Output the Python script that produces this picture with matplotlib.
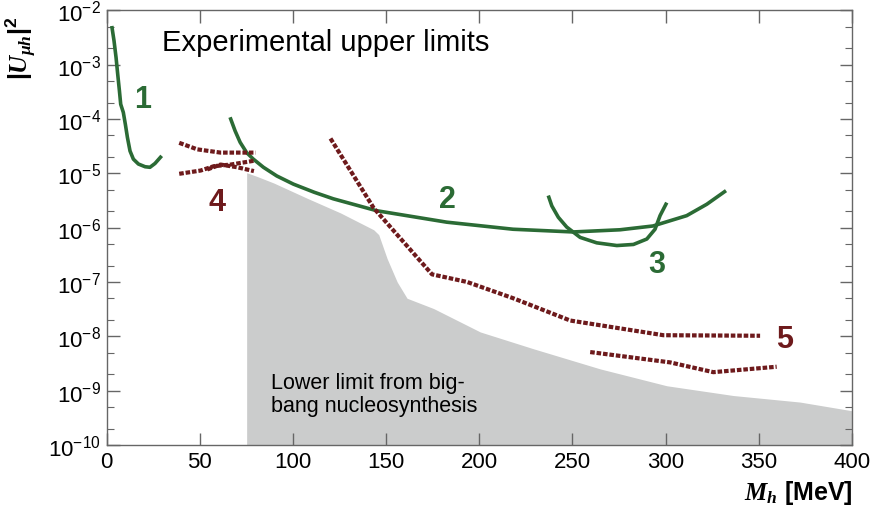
import numpy as np
import matplotlib
matplotlib.use("Agg")
import matplotlib.pyplot as plt
from matplotlib.ticker import FixedLocator, NullFormatter, LogFormatterSciNotation

plt.rcParams['font.family'] = ['Liberation Sans', 'DejaVu Sans']
plt.rcParams['mathtext.fontset'] = 'custom'
plt.rcParams['mathtext.rm'] = 'Liberation Sans'
plt.rcParams['mathtext.it'] = 'Liberation Serif:italic'
plt.rcParams['mathtext.bf'] = 'Liberation Sans:bold'
plt.rcParams['mathtext.bfit'] = 'Liberation Serif:bold:italic'

# ---- data (mass in MeV, log10 |U|^2) ----
c1_x = [2.7, 3.9, 5.0, 5.9, 6.8, 7.5, 8.9, 10.0, 11.1, 12.5, 14.3, 17.0, 20.6, 23.2, 25.9, 29.5]
c1_log = [-2.29, -2.56, -2.87, -3.18, -3.48, -3.73, -3.88, -4.10, -4.34, -4.59, -4.74, -4.83, -4.88, -4.89, -4.82, -4.68]

c2_x = [66.2, 68.9, 71.6, 75.1, 78.7, 84.1, 91.3, 100.2, 111.4, 121.6, 145.0, 182.5, 218.1, 250.3, 275.5, 293.2, 311.3, 322.1, 332.4]
c2_log = [-3.97, -4.22, -4.43, -4.62, -4.74, -4.89, -5.05, -5.20, -5.35, -5.47, -5.69, -5.90, -6.03, -6.08, -6.04, -5.97, -5.78, -5.57, -5.32]

c3_x = [237.0, 238.9, 242.4, 246.9, 254.1, 263.0, 273.8, 282.7, 289.9, 294.3, 297.0, 300.6]
c3_log = [-5.41, -5.60, -5.81, -5.99, -6.18, -6.28, -6.33, -6.31, -6.21, -6.03, -5.78, -5.54]

c4a_x = [38.9, 48.6, 61.1, 79.9]
c4a_log = [-4.44, -4.56, -4.62, -4.62]
c4b_x = [38.9, 50.4, 57.5, 66.5, 79.0]
c4b_log = [-5.01, -4.95, -4.87, -4.84, -4.77]
c4c_x = [54.0, 61.1, 70.1, 79.0]
c4c_log = [-4.93, -4.84, -4.89, -4.96]

c5a_x = [120.1, 143.3, 174.6, 193.4, 218.2, 248.8, 298.8, 350.7]
c5a_log = [-4.36, -5.64, -6.86, -7.0, -7.3, -7.71, -7.98, -7.99]
c5b_x = [259.5, 302.4, 325.6, 359.6]
c5b_log = [-8.29, -8.48, -8.66, -8.56]

bbn_x = [75.1, 80.8, 89.7, 107.6, 125.5, 143.3, 146.0, 150.5, 155.9, 161.2, 175.5, 200.5, 229.1, 264.9, 300.6, 336.4, 372.1, 400.0]
bbn_log = [-4.99, -5.06, -5.18, -5.46, -5.73, -6.04, -6.13, -6.57, -7.0, -7.30, -7.49, -7.92, -8.23, -8.60, -8.91, -9.09, -9.21, -9.37]

x_ticks = [0, 50, 100, 150, 200, 250, 300, 350, 400]
y_decades = [-10, -9, -8, -7, -6, -5, -4, -3, -2]

GREEN = '#2b6b35'
RED = '#6e1a1c'
GRAY = '#cbcccc'

fig = plt.figure(figsize=(8.72, 5.10), dpi=100)
ax = fig.add_axes([0.1224, 0.1255, 0.977 - 0.1224, 0.978 - 0.1255])

p = lambda v: 10.0 ** np.asarray(v)

ax.fill_between(bbn_x, p(bbn_log), 1e-10, color=GRAY, lw=0, zorder=1)

for xs, ls in [(c1_x, c1_log), (c2_x, c2_log), (c3_x, c3_log)]:
    ax.plot(xs, p(ls), color=GREEN, lw=2.6, solid_capstyle='butt', solid_joinstyle='round', zorder=3)

dash = (0, (1.1, 0.45))
for xs, ls in [(c4a_x, c4a_log), (c4b_x, c4b_log), (c4c_x, c4c_log), (c5a_x, c5a_log), (c5b_x, c5b_log)]:
    ax.plot(xs, p(ls), color=RED, lw=3.0, linestyle=dash, zorder=4)

ax.set_yscale('log')
ax.set_xlim(0, 400)
ax.set_ylim(1e-10, 1e-2)
ax.xaxis.set_major_locator(FixedLocator(x_ticks))
ax.yaxis.set_major_locator(FixedLocator([10.0 ** d for d in y_decades]))
ax.yaxis.set_major_formatter(LogFormatterSciNotation())
minor = [m * 10.0 ** d for d in y_decades[:-1] for m in (2.0, 5.0)]
ax.yaxis.set_minor_locator(FixedLocator(minor))
ax.yaxis.set_minor_formatter(NullFormatter())
ax.tick_params(which='both', direction='in', top=True, right=True, color='#666666', labelsize=16)
ax.tick_params(which='major', length=9, width=1.0, pad=4)
ax.tick_params(which='minor', length=5, width=0.8)
for s in ax.spines.values():
    s.set_color('#666666')
    s.set_linewidth(1.0)

ax.text(0.074, 0.926, 'Experimental upper limits', transform=ax.transAxes, fontsize=21,
        ha='left', va='center', zorder=5)
ax.text(0.22, 0.117, 'Lower limit from big-\nbang nucleosynthesis', transform=ax.transAxes,
        fontsize=15.5, ha='left', va='center', linespacing=1.15, zorder=5)

for txt, xv, lv, col in [('1', 19.5, -3.64, GREEN), ('2', 182.7, -5.47, GREEN), ('3', 295.2, -6.67, GREEN),
                         ('4', 59, -5.53, RED), ('5', 364, -8.05, RED)]:
    ax.text(xv, 10 ** lv, txt, color=col, fontsize=22, fontweight='bold', ha='center', va='center', zorder=5)

ax.set_ylabel(r'$\mathbf{|}\mathbfit{U}_{\mathbfit{\mu h}}\mathbf{|^2}$', fontsize=18,
              ha='center', va='center')
ax.yaxis.set_label_coords(-0.116, 0.915)
ax.set_xlabel(r'$\mathbfit{M}_{\mathbfit{h}}$' + ' [MeV]', fontsize=18, fontweight='bold',
              ha='center', va='center')
ax.xaxis.set_label_coords(0.928, -0.108)

fig.savefig('out.png', dpi=100)
